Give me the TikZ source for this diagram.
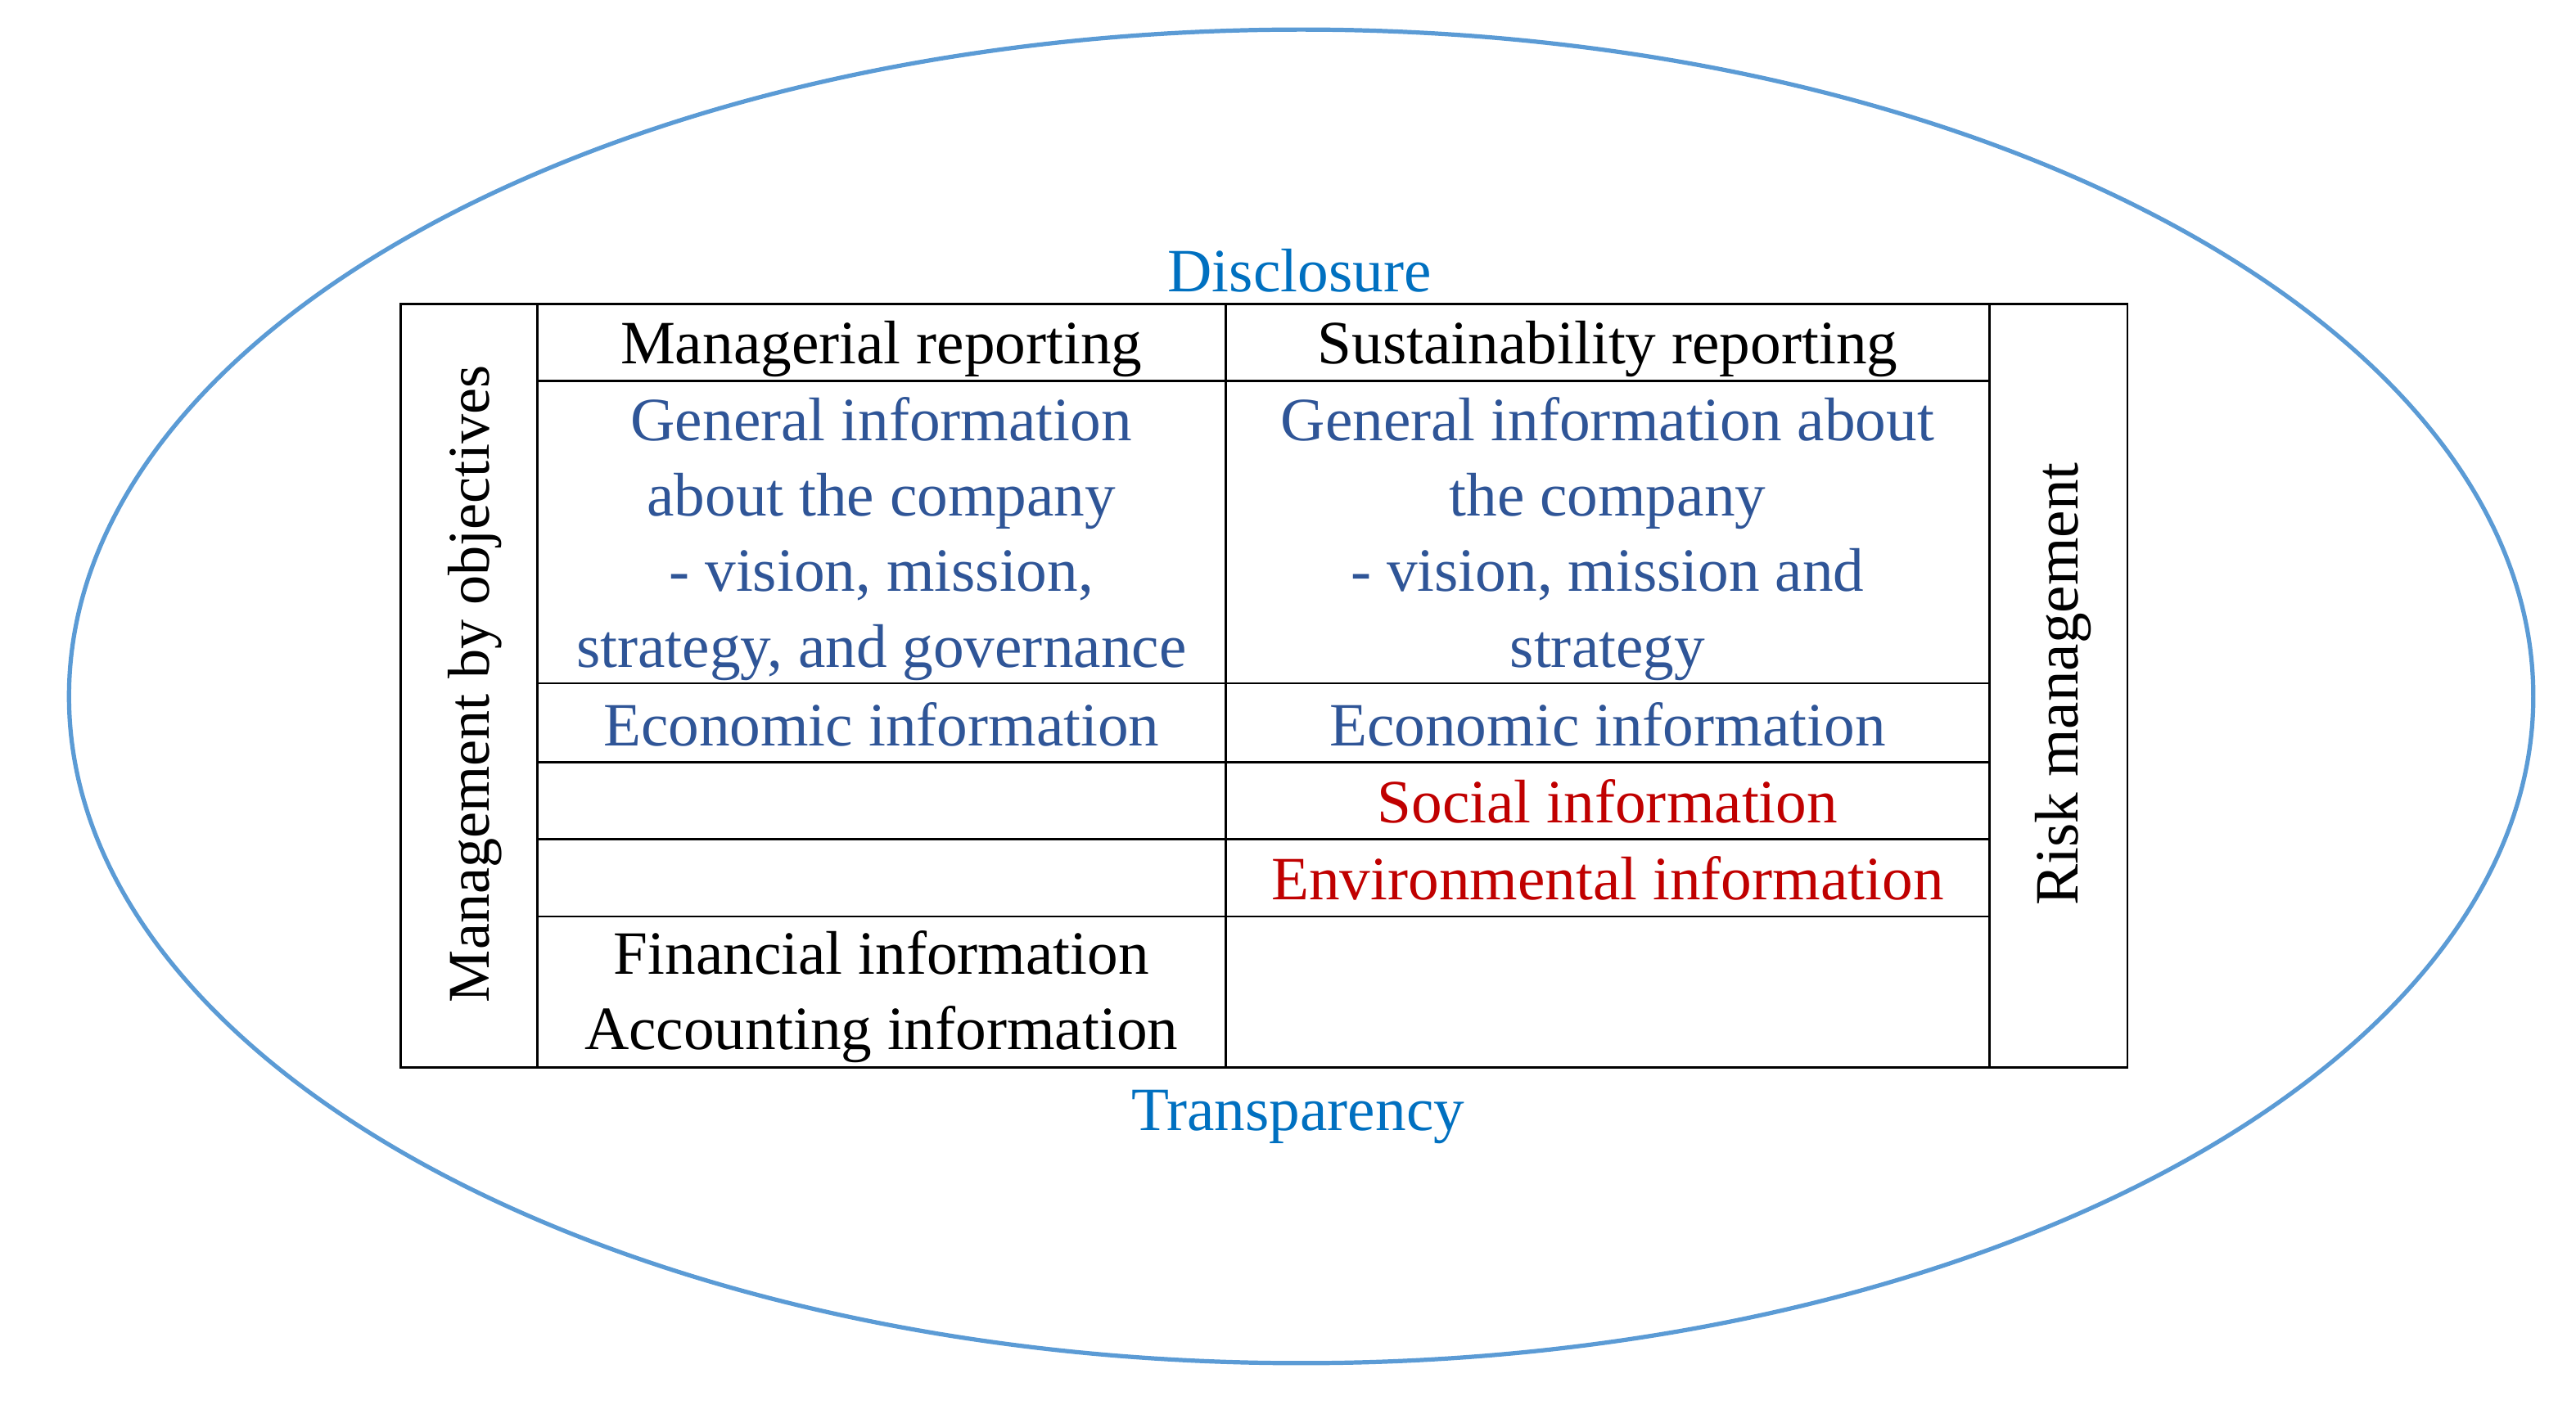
\documentclass[tikz,border=0pt]{standalone}
\usepackage{fontspec}
\setmainfont{Liberation Serif}
\definecolor{ellblue}{HTML}{5B9BD5}
\definecolor{infoblue}{HTML}{2F5597}
\definecolor{capblue}{HTML}{0070C0}
\definecolor{infored}{HTML}{C00000}
\begin{document}
\begin{tikzpicture}[x=1pt,y=-1pt,
  txt/.style={align=center, font=\fontsize{37.5}{46}\selectfont, inner sep=0pt},
  blu/.style={txt, text=infoblue},
  rd/.style={txt, text=infored},
  captxt/.style={txt, text=capblue},
  grid/.style={line width=1.3pt, black}]
\useasboundingbox (0,0) rectangle (1568,855);
\draw[ellblue, line width=2.6pt] (792,424) ellipse [x radius=750, y radius=406];
% table frame
\draw[grid] (244,185) rectangle (1295,650);
\draw[grid] (327,185) -- (327,650);
\draw[grid] (746,185) -- (746,650);
\draw[grid] (1211,185) -- (1211,650);
\foreach \yy in {232,416,464,511,558}{\draw[grid] (327,\yy) -- (1211,\yy);}
% texts
\node[txt] (mr) at (536.5,212.5) {Managerial reporting};
\node[txt] (sr) at (978.5,212.5) {Sustainability reporting};
\node[blu] (gl) at (536.5,328) {General information\\about the company\\- vision, mission,\\strategy, and governance};
\node[blu] (gr) at (978.5,328) {General information about\\the company\\- vision, mission and\\strategy};
\node[blu] (el) at (536.5,441) {Economic information};
\node[blu] (er) at (978.5,441) {Economic information};
\node[rd] (so) at (978.5,488) {Social information};
\node[rd] (en) at (978.5,535) {Environmental information};
\node[txt] (fi) at (536.5,607) {Financial information\\Accounting information};
\node[txt, rotate=90, font=\fontsize{36}{46}\selectfont] (mbo) at (289,416.5) {Management by objectives};
\node[txt, rotate=90] (risk) at (1256,416.5) {Risk management};
\node[captxt] (dis) at (791,165) {Disclosure};
\node[captxt] (tra) at (790,680) {Transparency};
\end{tikzpicture}
\end{document}
